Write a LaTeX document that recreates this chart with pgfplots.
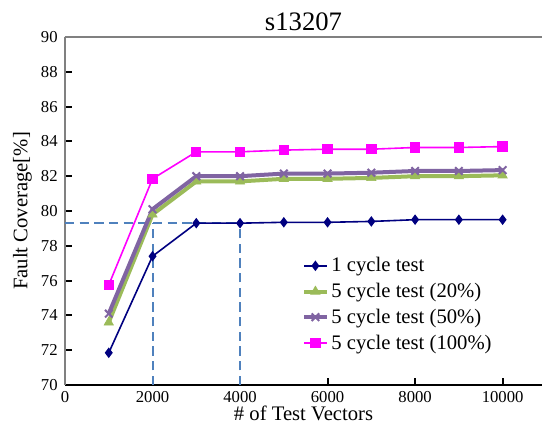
\documentclass[border=0pt]{standalone}
\usepackage{pgfplots}
\pgfplotsset{compat=1.18}
\usepackage{fontspec}
\setmainfont{Liberation Serif}

\definecolor{cnavy}{HTML}{000080}
\definecolor{cgreen}{HTML}{9BBB59}
\definecolor{cpurple}{HTML}{8064A2}
\definecolor{cmag}{HTML}{FF00FF}
\definecolor{cdash}{HTML}{4F81BD}

\begin{document}
\begin{tikzpicture}
\begin{axis}[
    name=ax,
    scale only axis,
    width=357.75pt, height=261pt,
    xmin=0, xmax=10900,
    ymin=70, ymax=90,
    axis x line*=bottom,
    axis y line*=left,
    x axis line style={black, line width=1pt, -},
    y axis line style={gray, line width=1.5pt, -},
    xtick={0,2000,4000,6000,8000,10000},
    ytick={70,72,...,90},
    scaled ticks=false,
    tick align=inside,
    major tick length=5pt,
    tick style={black, line width=1.5pt},
    /pgf/number format/assume math mode=true,
    /pgf/number format/1000 sep={},
    ticklabel style={font=\fontsize{12.5pt}{14pt}\selectfont},
    xticklabel style={yshift=-1pt},
    yticklabel style={xshift=-2pt},
    title={s13207},
    title style={font=\fontsize{20pt}{22pt}\selectfont, yshift=-5pt},
    xlabel={\# of Test Vectors},
    ylabel={Fault Coverage[\%]},
    label style={font=\fontsize{15.5pt}{17pt}\selectfont},
    xlabel style={yshift=4pt},
    ylabel style={yshift=0pt},
    legend style={draw=none, fill=none, at={(0.488,0.382)}, anchor=north west,
        font=\fontsize{15.5pt}{17pt}\selectfont, row sep=3pt},
    legend cell align=left,
    clip=false,
]
% reference lines
\addplot[cdash, line width=1.5pt, dash pattern=on 7pt off 4pt, forget plot]
    coordinates {(0,79.3) (4000,79.3)};
\addplot[cdash, line width=1.5pt, dash pattern=on 7pt off 4pt, forget plot]
    coordinates {(2000,70) (2000,79.3)};
\addplot[cdash, line width=1.5pt, dash pattern=on 7pt off 4pt, forget plot]
    coordinates {(4000,70) (4000,79.3)};

\addplot[cnavy, line width=1.2pt, mark=diamond*, mark size=3pt] coordinates {
    (1000,71.85) (2000,77.4) (3000,79.3) (4000,79.3) (5000,79.35)
    (6000,79.35) (7000,79.4) (8000,79.5) (9000,79.5) (10000,79.5)
};
\addlegendentry{1 cycle test}
\addplot[cgreen, line width=3pt, mark=triangle*, mark size=4pt, mark options={line width=0.5pt}] coordinates {
    (1000,73.6) (2000,79.8) (3000,81.7) (4000,81.7) (5000,81.85)
    (6000,81.85) (7000,81.9) (8000,82.0) (9000,82.0) (10000,82.05)
};
\addlegendentry{5 cycle test (20\%)}
\addplot[cpurple, line width=3pt, mark=x, mark size=4pt, mark options={line width=1.5pt}] coordinates {
    (1000,74.1) (2000,80.1) (3000,82.0) (4000,82.0) (5000,82.15)
    (6000,82.15) (7000,82.2) (8000,82.3) (9000,82.3) (10000,82.35)
};
\addlegendentry{5 cycle test (50\%)}
\addplot[cmag, line width=1.2pt, mark=square*, mark size=3.3pt] coordinates {
    (1000,75.75) (2000,81.85) (3000,83.4) (4000,83.4) (5000,83.5)
    (6000,83.55) (7000,83.55) (8000,83.65) (9000,83.65) (10000,83.7)
};
\addlegendentry{5 cycle test (100\%)}

\draw[gray, line width=2pt] (rel axis cs:0,1) -- (rel axis cs:1,1);
\end{axis}
\pgfresetboundingbox
\path[use as bounding box] ([shift={(-48.75pt,-42pt)}]ax.south west) rectangle ([shift={(0pt,27.75pt)}]ax.north east);
\end{tikzpicture}
\end{document}
